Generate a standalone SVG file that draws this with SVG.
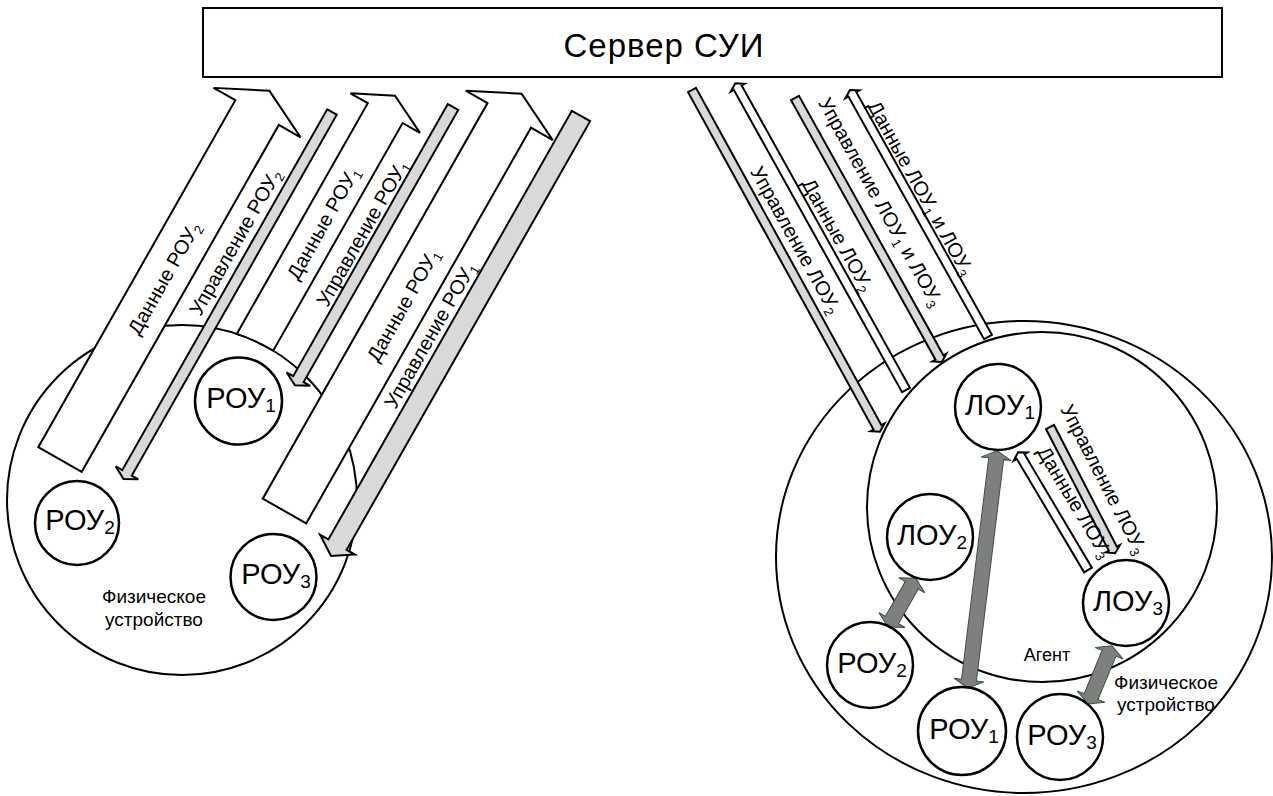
<svg xmlns="http://www.w3.org/2000/svg" width="1273" height="796" viewBox="0 0 1273 796">
<style>
.ln{fill:#fff;stroke:#000;stroke-width:2;stroke-linejoin:miter}
.gr{fill:#d9d9d9;stroke:#000;stroke-width:2}
.dk{fill:#7f7f7f;stroke:#37563a;stroke-width:1}
.bg{fill:#fff;stroke:#000;stroke-width:2}
.nd{fill:#fff;stroke:#000;stroke-width:2.5}
text{font-family:"Liberation Sans",Arial,sans-serif;fill:#000}
.lbl{font-size:20px;text-anchor:middle}
.nt{font-size:29px;text-anchor:middle}
.cap{font-size:19px;text-anchor:middle}
</style>
<rect width="1273" height="796" fill="#fff"/>
<g id="server">
<rect x="203" y="8" width="1019" height="69" class="bg"/>
<text x="664" y="57" style="font-size:33px;text-anchor:middle;letter-spacing:1px">Сервер СУИ</text>
</g>
<g id="device-left">
<circle cx="182" cy="500" r="175" class="bg"/>
<text class="cap" x="154" y="603">Физическое</text>
<text class="cap" x="154" y="626">устройство</text>
</g>
<g id="device-right">
<ellipse cx="1024" cy="557" rx="248" ry="236" class="bg"/>
<text class="cap" x="1166" y="689">Физическое</text>
<text class="cap" x="1166" y="711">устройство</text>
</g>
<g id="agent">
<circle cx="1042" cy="507" r="175" class="bg"/>
<text x="1047" y="661" style="font-size:18px;text-anchor:middle">Агент</text>
</g>
<g id="connectors">
<path class="ln" d="M236.8,333.9 L367.8,103.2 L350.4,93.3 L395,95.8 L420,132.9 L402.6,123 L273.2,350.7 A175,175 0 0 0 236.8,333.9 Z"/>
<polygon class="ln" transform="translate(60,459.5) rotate(29.6)" points="-25,0 25,0 25,-399 50,-399 0,-424 -50,-399 -25,-399"/>
<polygon class="ln" transform="translate(284.5,511) rotate(29.6)" points="-25,0 25,0 25,-455 50,-455 0,-480 -50,-455 -25,-455"/>
<polygon class="gr" transform="translate(332,112) rotate(209.6)" points="-5.5,0 5.5,0 5.5,-415 13,-415 0,-422 -13,-415 -5.5,-415"/>
<polygon class="gr" transform="translate(453,107) rotate(209.6)" points="-6,0 6,0 6,-313 13.5,-313 0,-320 -13.5,-313 -6,-313"/>
<polygon class="gr" transform="translate(581,116) rotate(209.6)" points="-10.5,0 10.5,0 10.5,-493 20,-493 0,-506 -20,-493 -10.5,-493"/>
<polygon class="gr" transform="translate(692,90) rotate(151.2)" points="-4.5,0 4.5,0 4.5,-385 8,-385 0,-390 -8,-385 -4.5,-385"/>
<polygon class="ln" transform="translate(906,390) rotate(-29.1)" points="-4.5,0 4.5,0 4.5,-346 8,-346 0,-351 -8,-346 -4.5,-346"/>
<polygon class="gr" transform="translate(795,98) rotate(150.9)" points="-4.5,0 4.5,0 4.5,-297 8,-297 0,-302 -8,-297 -4.5,-297"/>
<polygon class="ln" transform="translate(988,337) rotate(-29.2)" points="-4.5,0 4.5,0 4.5,-278 8,-278 0,-283 -8,-278 -4.5,-278"/>
<polygon class="gr" transform="translate(1050,427) rotate(152.7)" points="-4.5,0 4.5,0 4.5,-137 8,-137 0,-142 -8,-137 -4.5,-137"/>
<polygon class="ln" transform="translate(1088,570) rotate(-30.7)" points="-4.5,0 4.5,0 4.5,-132 8,-132 0,-137 -8,-132 -4.5,-132"/>
<polygon class="dk" transform="translate(968,688) rotate(7)" points="0,0 15,-8 7.5,-8 7.5,-231 15,-231 0,-239 -15,-231 -7.5,-231 -7.5,-8 -15,-8"/>
<polygon class="dk" transform="translate(888,627) rotate(29.7)" points="0,0 15,-8 7.5,-8 7.5,-48 15,-48 0,-56 -15,-48 -7.5,-48 -7.5,-8 -15,-8"/>
<polygon class="dk" transform="translate(1088,704) rotate(22.5)" points="0,0 15,-8 7.5,-8 7.5,-55 15,-55 0,-63 -15,-55 -7.5,-55 -7.5,-8 -15,-8"/>
<text class="lbl" transform="translate(164,278) rotate(-60.4)" y="7">Данные РОУ<tspan font-size="13" dy="4">2</tspan></text>
<text class="lbl" transform="translate(235,242) rotate(-60.4)" y="7">Управление РОУ<tspan font-size="13" dy="4">2</tspan></text>
<text class="lbl" transform="translate(323,223) rotate(-60.4)" y="7">Данные РОУ<tspan font-size="13" dy="4">1</tspan></text>
<text class="lbl" transform="translate(362,233) rotate(-60.4)" y="7">Управление РОУ<tspan font-size="13" dy="4">1</tspan></text>
<text class="lbl" transform="translate(403,305) rotate(-60.4)" y="7">Данные РОУ<tspan font-size="13" dy="4">1</tspan></text>
<text class="lbl" transform="translate(430,335) rotate(-60.4)" y="7">Управление РОУ<tspan font-size="13" dy="4">1</tspan></text>
<text class="lbl" transform="translate(796,240) rotate(60.9)" y="7">Управление ЛОУ<tspan font-size="13" dy="4">2</tspan></text>
<text class="lbl" transform="translate(838,235) rotate(60.9)" y="7">Данные ЛОУ<tspan font-size="13" dy="4">2</tspan></text>
<text class="lbl" transform="translate(881,202) rotate(60.9)" y="7">Управление ЛОУ<tspan font-size="13" dy="4">1</tspan><tspan dy="-4"> и ЛОУ</tspan><tspan font-size="13" dy="4">3</tspan></text>
<text class="lbl" transform="translate(921,188) rotate(60.9)" y="7">Данные ЛОУ<tspan font-size="13" dy="4">1</tspan><tspan dy="-4"> и ЛОУ</tspan><tspan font-size="13" dy="4">3</tspan></text>
<text class="lbl" transform="translate(1104,479) rotate(62.7)" y="7">Управление ЛОУ<tspan font-size="13" dy="4">3</tspan></text>
<text class="lbl" transform="translate(1075,502) rotate(59)" y="7">Данные ЛОУ<tspan font-size="13" dy="4">3</tspan></text>
</g>
<g id="rou1-left"><circle class="nd" cx="238.5" cy="401" r="43.5"/><text class="nt" x="241" y="408">РОУ<tspan font-size="19" dy="4">1</tspan></text></g>
<g id="rou2-left"><circle class="nd" cx="77" cy="523" r="42"/><text class="nt" x="80" y="530">РОУ<tspan font-size="19" dy="4">2</tspan></text></g>
<g id="rou3-left"><circle class="nd" cx="273.5" cy="577" r="43"/><text class="nt" x="276" y="584">РОУ<tspan font-size="19" dy="4">3</tspan></text></g>
<g id="lou1"><circle class="nd" cx="998" cy="407" r="43"/><text class="nt" x="1000" y="415">ЛОУ<tspan font-size="19" dy="4">1</tspan></text></g>
<g id="lou2"><circle class="nd" cx="930" cy="537" r="43"/><text class="nt" x="932" y="545">ЛОУ<tspan font-size="19" dy="4">2</tspan></text></g>
<g id="lou3"><circle class="nd" cx="1126" cy="603" r="43"/><text class="nt" x="1128" y="611">ЛОУ<tspan font-size="19" dy="4">3</tspan></text></g>
<g id="rou2-right"><circle class="nd" cx="870" cy="665" r="43"/><text class="nt" x="872" y="673">РОУ<tspan font-size="19" dy="4">2</tspan></text></g>
<g id="rou1-right"><circle class="nd" cx="962" cy="731" r="44"/><text class="nt" x="964" y="739">РОУ<tspan font-size="19" dy="4">1</tspan></text></g>
<g id="rou3-right"><circle class="nd" cx="1060" cy="737" r="43"/><text class="nt" x="1062" y="745">РОУ<tspan font-size="19" dy="4">3</tspan></text></g>
</svg>
